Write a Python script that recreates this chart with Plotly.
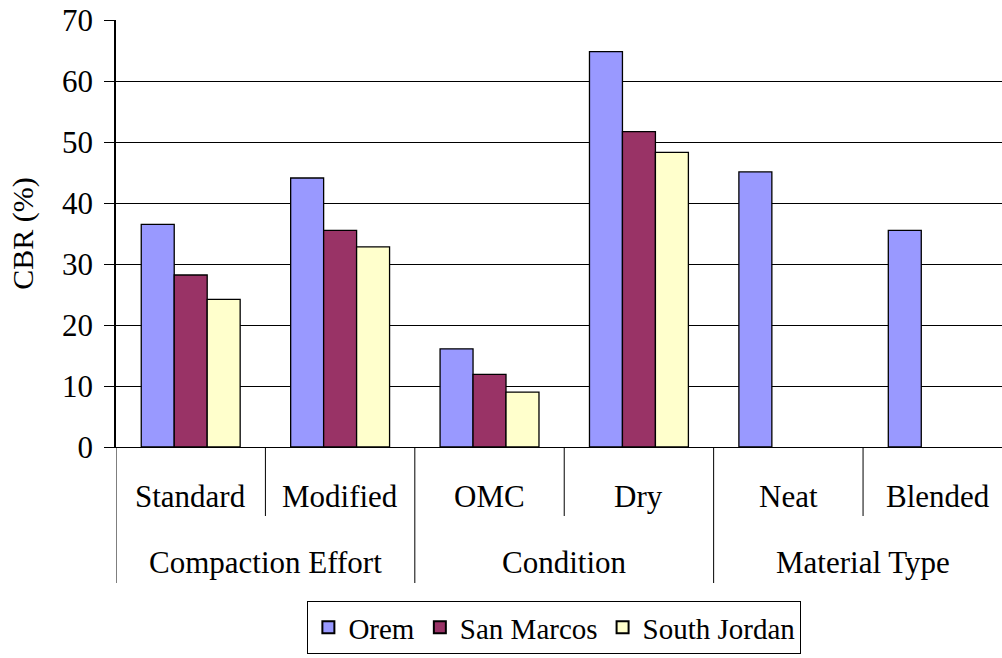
import plotly.graph_objects as go

categories = ["Standard", "Modified", "OMC", "Dry", "Neat", "Blended"]
groups = ["Compaction Effort", "Condition", "Material Type"]
group_members = [2, 2, 2]
orem = [36.5, 44.1, 16.1, 64.8, 45.1, 35.5]
san_marcos = [28.2, 35.5, 11.9, 51.7, None, None]
south_jordan = [24.2, 32.8, 9.0, 48.3, None, None]
series_names = ["Orem", "San Marcos", "South Jordan"]
series_colors = ["#9999FF", "#993366", "#FFFFCC"]

FONT = "Times New Roman, Liberation Serif, Tinos, serif"
FS = 31

fig = go.Figure()
for name, vals, col in zip(series_names, [orem, san_marcos, south_jordan], series_colors):
    fig.add_trace(go.Bar(
        x=categories, y=vals, name=name,
        marker=dict(color=col, line=dict(color="black", width=1.3)),
    ))

plot_top, plot_bottom = 20, 447
ph = plot_bottom - plot_top

def py(pix):
    return (plot_bottom - pix) / ph

shapes = []
annotations = []
for i, c in enumerate(categories):
    annotations.append(dict(x=i, y=py(497), xref="x", yref="paper", text=c,
                            showarrow=False, font=dict(family=FONT, size=FS, color="black"),
                            xanchor="center", yanchor="middle"))
start = 0
for g, n in zip(groups, group_members):
    shapes.append(dict(type="line", xref="x", yref="paper", x0=start - 0.5, x1=start - 0.5,
                       y0=0, y1=py(583), line=dict(color="black", width=1)))
    for k in range(1, n):
        shapes.append(dict(type="line", xref="x", yref="paper", x0=start + k - 0.5, x1=start + k - 0.5,
                           y0=0, y1=py(516), line=dict(color="black", width=1)))
    annotations.append(dict(x=start + (n - 1) / 2, y=py(562), xref="x", yref="paper", text=g,
                            showarrow=False, font=dict(family=FONT, size=FS, color="black"),
                            xanchor="center", yanchor="middle"))
    start += n

fig.update_layout(
    width=1002, height=658,
    margin=dict(l=116, r=0, t=plot_top, b=658 - plot_bottom, autoexpand=False),
    plot_bgcolor="white", paper_bgcolor="white",
    barmode="group", bargap=0.338, bargroupgap=0,
    font=dict(family=FONT, size=FS, color="black"),
    shapes=shapes, annotations=annotations,
    legend=dict(orientation="h", x=0.216, y=py(601), xanchor="left", yanchor="top",
                bordercolor="black", borderwidth=1, font=dict(family=FONT, size=29),
                traceorder="normal", itemsizing="constant"),
    xaxis=dict(range=[-0.5, 5.43], showticklabels=False, ticks="", showline=True,
               linecolor="black", linewidth=1, showgrid=False, zeroline=False,
               fixedrange=True, automargin=False),
    yaxis=dict(range=[0, 70], dtick=10, ticks="outside", ticklen=10, tickcolor="black",
               showline=True, linecolor="black", linewidth=1.5, gridcolor="black", gridwidth=1,
               zeroline=False, automargin=False, ticklabelstandoff=5,
               title=dict(text="CBR (%)", standoff=20, font=dict(family=FONT, size=30)),
               tickfont=dict(family=FONT, size=FS)),
)

fig.write_html("out.html", config={"displayModeBar": False},
               post_script="document.body.style.margin='0';")
